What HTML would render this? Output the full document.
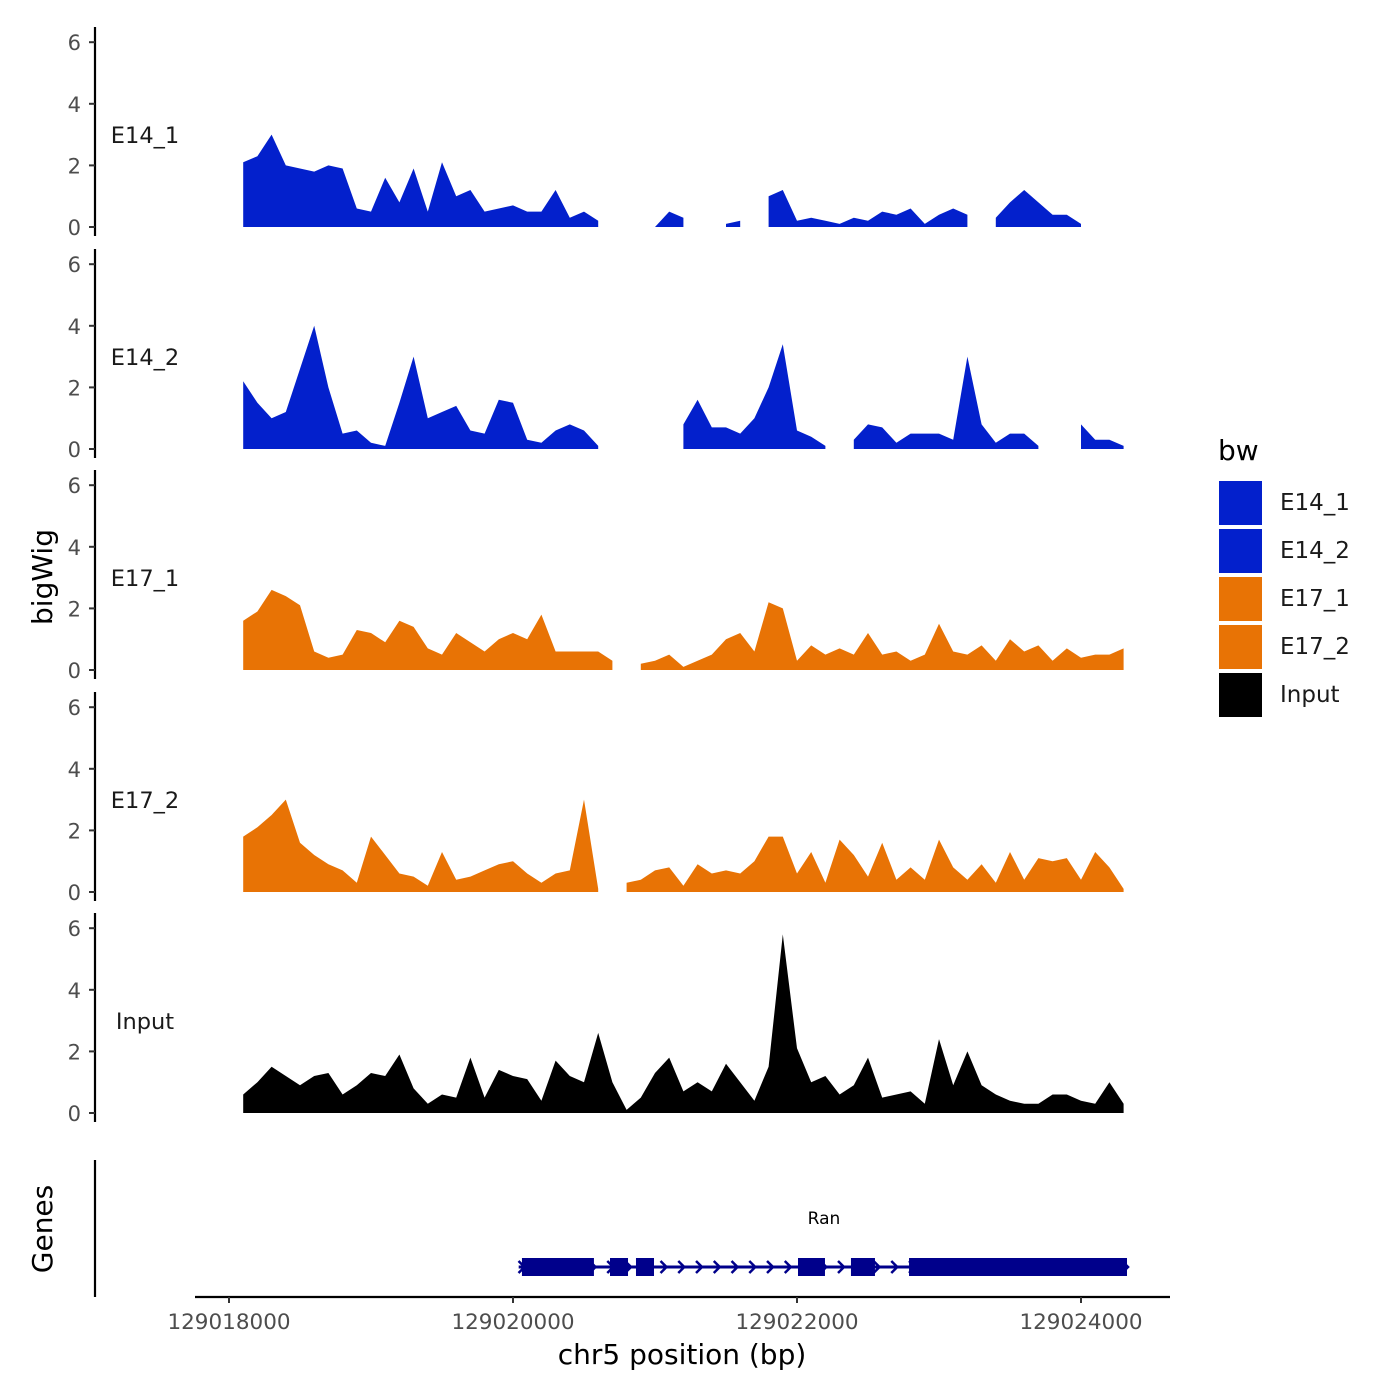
<!DOCTYPE html>
<html><head><meta charset="utf-8"><style>
html,body{margin:0;padding:0;background:#fff;}
svg{display:block;font-family:"DejaVu Sans","Liberation Sans",sans-serif;}
</style></head><body>
<svg id="chart" width="1400" height="1400" viewBox="0 0 1400 1400"></svg>
<script>
const startBp = 129018100;
const stepBp = 100;
const xTicks = [129018000,129020000,129022000,129024000];
const yTicks = [0,2,4,6];
const trackNames = ["E14_1","E14_2","E17_1","E17_2","Input"];
const trackColors = ["#0320cc","#0320cc","#e87305","#e87305","#000000"];
const E14_1 = [2.1,2.3,3.0,2.0,1.9,1.8,2.0,1.9,0.6,0.5,1.6,0.8,1.9,0.5,2.1,1.0,1.2,0.5,0.6,0.7,0.5,0.5,1.2,0.3,0.5,0.2,null,null,null,0,0.5,0.3,null,null,0.1,0.2,null,1.0,1.2,0.2,0.3,0.2,0.1,0.3,0.2,0.5,0.4,0.6,0.1,0.4,0.6,0.4,null,0.3,0.8,1.2,0.8,0.4,0.4,0.1,null,null,null];
const E14_2 = [2.2,1.5,1.0,1.2,2.6,4.0,2.0,0.5,0.6,0.2,0.1,1.5,3.0,1.0,1.2,1.4,0.6,0.5,1.6,1.5,0.3,0.2,0.6,0.8,0.6,0.1,null,null,null,null,null,0.8,1.6,0.7,0.7,0.5,1.0,2.0,3.4,0.6,0.4,0.1,null,0.3,0.8,0.7,0.2,0.5,0.5,0.5,0.3,3.0,0.8,0.2,0.5,0.5,0.1,null,null,0.8,0.3,0.3,0.1];
const E17_1 = [1.6,1.9,2.6,2.4,2.1,0.6,0.4,0.5,1.3,1.2,0.9,1.6,1.4,0.7,0.5,1.2,0.9,0.6,1.0,1.2,1.0,1.8,0.6,0.6,0.6,0.6,0.3,null,0.2,0.3,0.5,0.1,0.3,0.5,1.0,1.2,0.6,2.2,2.0,0.3,0.8,0.5,0.7,0.5,1.2,0.5,0.6,0.3,0.5,1.5,0.6,0.5,0.8,0.3,1.0,0.6,0.8,0.3,0.7,0.4,0.5,0.5,0.7];
const E17_2 = [1.8,2.1,2.5,3.0,1.6,1.2,0.9,0.7,0.3,1.8,1.2,0.6,0.5,0.2,1.3,0.4,0.5,0.7,0.9,1.0,0.6,0.3,0.6,0.7,3.0,0.1,null,0.3,0.4,0.7,0.8,0.2,0.9,0.6,0.7,0.6,1.0,1.8,1.8,0.6,1.3,0.3,1.7,1.2,0.5,1.6,0.4,0.8,0.4,1.7,0.8,0.4,0.9,0.3,1.3,0.4,1.1,1.0,1.1,0.4,1.3,0.8,0.1];
const Input = [0.6,1.0,1.5,1.2,0.9,1.2,1.3,0.6,0.9,1.3,1.2,1.9,0.8,0.3,0.6,0.5,1.8,0.5,1.4,1.2,1.1,0.4,1.7,1.2,1.0,2.6,1.0,0.1,0.5,1.3,1.8,0.7,1.0,0.7,1.6,1.0,0.4,1.5,5.8,2.1,1.0,1.2,0.6,0.9,1.8,0.5,0.6,0.7,0.3,2.4,0.9,2.0,0.9,0.6,0.4,0.3,0.3,0.6,0.6,0.4,0.3,1.0,0.3];
const series = [E14_1,E14_2,E17_1,E17_2,Input];
const exonStarts = [129020063,129020683,129020866,129022007,129022380,129022789];
const exonEnds   = [129020570,129020810,129020993,129022197,129022549,129024324];
const geneStart = 129020040, geneEnd = 129024324;

const svg = document.getElementById('chart');
const NS = 'http://www.w3.org/2000/svg';
function mk(tag, attrs, parent){const e=document.createElementNS(NS,tag);for(const k in attrs)e.setAttribute(k,attrs[k]);(parent||svg).appendChild(e);return e;}
const xScale = bp => 229 + (bp-129018000)*0.142;
const panelBase = [227,449,670,892,1113];
const yUnit = 30.8;

series.forEach((vals,p)=>{
  const base = panelBase[p];
  const y = v => base - v*yUnit;
  const g = mk('g',{});
  
  
  const ax = mk('line',{x1:95,x2:95,y1:base-200,y2:base+9,stroke:'#000','stroke-width':2.2},g);
  
  
  yTicks.forEach(t=>{
    mk('line',{x1:89,x2:95,y1:y(t),y2:y(t),stroke:'#333','stroke-width':2},g);
    const tl = mk('text',{x:81,y:y(t)+8,'text-anchor':'end','font-size':21,fill:'#4d4d4d'},g);
    tl.textContent = t;
    
    
  });
  const lab = mk('text',{x:145,y:base-84,'text-anchor':'middle','font-size':22.5,fill:'#1a1a1a'},g);
  lab.textContent = trackNames[p];
  
  
  let seg=[];
  const flush=()=>{
    if(seg.length>1){
      let d='M'+xScale(seg[0][0]).toFixed(1)+','+base;
      seg.forEach(s=>{d+=' L'+xScale(s[0]).toFixed(1)+','+y(s[1]).toFixed(1);});
      d+=' L'+xScale(seg[seg.length-1][0]).toFixed(1)+','+base+' Z';
      const a = mk('path',{d:d,fill:trackColors[p]},g);
      
      
    }
    seg=[];
  };
  vals.forEach((v,i)=>{ if(v===null){flush();} else seg.push([startBp+i*stepBp,v]); });
  flush();
});

const yt = mk('text',{x:0,y:0,transform:'translate(52,577) rotate(-90)','text-anchor':'middle','font-size':28,fill:'#000'});
yt.textContent='bigWig';



const gax = mk('line',{x1:95,x2:95,y1:1160,y2:1297,stroke:'#000','stroke-width':2.2});


const gt = mk('text',{x:0,y:0,transform:'translate(52,1229) rotate(-90)','text-anchor':'middle','font-size':28,fill:'#000'});
gt.textContent='Genes';


const gl = mk('line',{x1:xScale(geneStart),x2:xScale(geneEnd),y1:1267,y2:1267,stroke:'#00008b','stroke-width':3});


for(let bp=geneStart+20; bp<geneEnd; bp+=125){
  const x=xScale(bp);
  const ar = mk('path',{d:`M${x-3},1261 L${x+3},1267 L${x-3},1273`,fill:'none',stroke:'#00008b','stroke-width':2.5});
  
  
}
exonStarts.forEach((s,i)=>{
  const ex = mk('rect',{x:xScale(s),y:1258,width:xScale(exonEnds[i])-xScale(s),height:18,fill:'#00008b'});
  
  
});
const ran = mk('text',{x:824,y:1224,'text-anchor':'middle','font-size':17,fill:'#000'});
ran.textContent='Ran';



const xa = mk('line',{x1:195,x2:1170,y1:1297,y2:1297,stroke:'#000','stroke-width':2.2});


xTicks.forEach(t=>{
  const x=xScale(t);
  mk('line',{x1:x,x2:x,y1:1297,y2:1303,stroke:'#333','stroke-width':2});
  const tl = mk('text',{x:x,y:1329,'text-anchor':'middle','font-size':21.5,fill:'#4d4d4d'});
  tl.textContent=t;
  
  
});
const xt = mk('text',{x:682,y:1364,'text-anchor':'middle','font-size':28,fill:'#000'});
xt.textContent='chr5 position (bp)';



const lt = mk('text',{x:1218,y:460,'font-size':28,fill:'#000'});
lt.textContent='bw';


const legNames=["E14_1","E14_2","E17_1","E17_2","Input"];
const legCols=["#0320cc","#0320cc","#e87305","#e87305","#000000"];
legNames.forEach((n,i)=>{
  const yy=480+i*48;
  const r = mk('rect',{x:1218,y:yy,width:45,height:46,fill:legCols[i],stroke:'#fff','stroke-width':2});
  
  
  const t = mk('text',{x:1280,y:yy+30,'font-size':23,fill:'#1a1a1a'});
  t.textContent=n;
  
  
});
</script>
</body></html>
